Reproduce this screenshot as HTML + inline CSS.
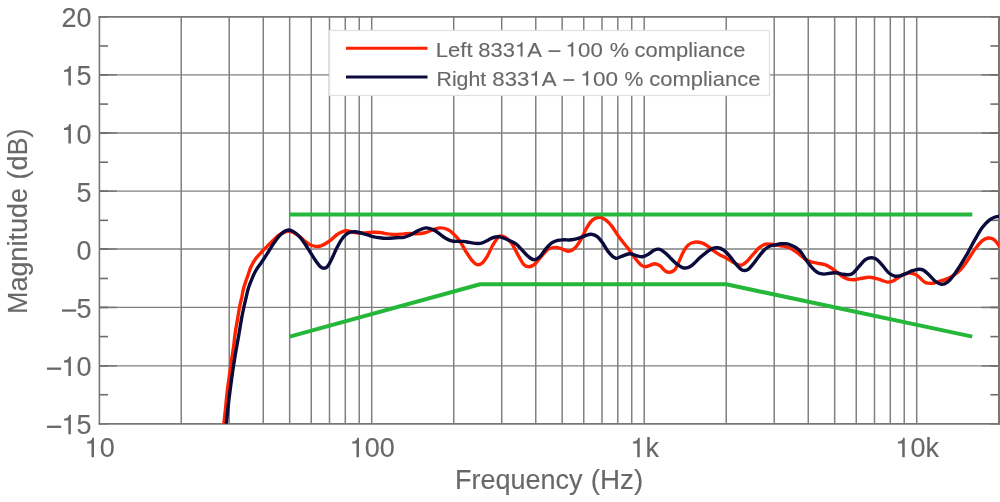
<!DOCTYPE html>
<html><head><meta charset="utf-8"><title>Frequency response</title>
<style>
html,body{margin:0;padding:0;background:#fff;}
body{width:1000px;height:502px;overflow:hidden;}
svg{display:block;will-change:transform;}
text{font-family:"Liberation Sans",sans-serif;font-kerning:none;}
</style></head><body>
<svg width="1000" height="502" viewBox="0 0 1000 502">
<rect width="1000" height="502" fill="#fff"/>
<defs><clipPath id="cp"><rect x="99.4" y="16.9" width="899.6" height="406.90000000000003"/></clipPath></defs>
<g stroke="#808080" stroke-width="1.5" fill="none">
<line x1="181.23" y1="16.9" x2="181.23" y2="423.8"/>
<line x1="229.22" y1="16.9" x2="229.22" y2="423.8"/>
<line x1="263.26" y1="16.9" x2="263.26" y2="423.8"/>
<line x1="289.67" y1="16.9" x2="289.67" y2="423.8"/>
<line x1="311.25" y1="16.9" x2="311.25" y2="423.8"/>
<line x1="329.49" y1="16.9" x2="329.49" y2="423.8"/>
<line x1="345.29" y1="16.9" x2="345.29" y2="423.8"/>
<line x1="359.23" y1="16.9" x2="359.23" y2="423.8"/>
<line x1="371.70" y1="16.9" x2="371.70" y2="423.8"/>
<line x1="453.73" y1="16.9" x2="453.73" y2="423.8"/>
<line x1="501.72" y1="16.9" x2="501.72" y2="423.8"/>
<line x1="535.76" y1="16.9" x2="535.76" y2="423.8"/>
<line x1="562.17" y1="16.9" x2="562.17" y2="423.8"/>
<line x1="583.75" y1="16.9" x2="583.75" y2="423.8"/>
<line x1="601.99" y1="16.9" x2="601.99" y2="423.8"/>
<line x1="617.79" y1="16.9" x2="617.79" y2="423.8"/>
<line x1="631.73" y1="16.9" x2="631.73" y2="423.8"/>
<line x1="644.20" y1="16.9" x2="644.20" y2="423.8"/>
<line x1="726.23" y1="16.9" x2="726.23" y2="423.8"/>
<line x1="774.22" y1="16.9" x2="774.22" y2="423.8"/>
<line x1="808.26" y1="16.9" x2="808.26" y2="423.8"/>
<line x1="834.67" y1="16.9" x2="834.67" y2="423.8"/>
<line x1="856.25" y1="16.9" x2="856.25" y2="423.8"/>
<line x1="874.49" y1="16.9" x2="874.49" y2="423.8"/>
<line x1="890.29" y1="16.9" x2="890.29" y2="423.8"/>
<line x1="904.23" y1="16.9" x2="904.23" y2="423.8"/>
<line x1="916.70" y1="16.9" x2="916.70" y2="423.8"/>
<line x1="99.4" y1="74.79" x2="999.0" y2="74.79" stroke-width="1.3"/>
<line x1="99.4" y1="133.00" x2="999.0" y2="133.00" stroke-width="1.3"/>
<line x1="99.4" y1="191.21" x2="999.0" y2="191.21" stroke-width="1.3"/>
<line x1="99.4" y1="249.00" x2="999.0" y2="249.00" stroke-width="1.3"/>
<line x1="99.4" y1="307.45" x2="999.0" y2="307.45" stroke-width="1.3"/>
<line x1="99.4" y1="365.79" x2="999.0" y2="365.79" stroke-width="1.3"/>
</g>
<g stroke="#6c6c6c" stroke-width="1.6" fill="none">
<line x1="99.4" y1="16.90" x2="108.0" y2="16.90"/>
<line x1="990.4" y1="16.90" x2="999.0" y2="16.90"/>
<line x1="99.4" y1="45.96" x2="108.0" y2="45.96"/>
<line x1="990.4" y1="45.96" x2="999.0" y2="45.96"/>
<line x1="99.4" y1="74.79" x2="116.9" y2="74.79" stroke="#7a7a7a"/>
<line x1="981.5" y1="74.79" x2="999.0" y2="74.79" stroke="#7a7a7a"/>
<line x1="99.4" y1="74.79" x2="108.0" y2="74.79"/>
<line x1="990.4" y1="74.79" x2="999.0" y2="74.79"/>
<line x1="99.4" y1="104.09" x2="108.0" y2="104.09"/>
<line x1="990.4" y1="104.09" x2="999.0" y2="104.09"/>
<line x1="99.4" y1="133.00" x2="116.9" y2="133.00" stroke="#7a7a7a"/>
<line x1="981.5" y1="133.00" x2="999.0" y2="133.00" stroke="#7a7a7a"/>
<line x1="99.4" y1="133.00" x2="108.0" y2="133.00"/>
<line x1="990.4" y1="133.00" x2="999.0" y2="133.00"/>
<line x1="99.4" y1="162.22" x2="108.0" y2="162.22"/>
<line x1="990.4" y1="162.22" x2="999.0" y2="162.22"/>
<line x1="99.4" y1="191.21" x2="116.9" y2="191.21" stroke="#7a7a7a"/>
<line x1="981.5" y1="191.21" x2="999.0" y2="191.21" stroke="#7a7a7a"/>
<line x1="99.4" y1="191.21" x2="108.0" y2="191.21"/>
<line x1="990.4" y1="191.21" x2="999.0" y2="191.21"/>
<line x1="99.4" y1="220.35" x2="108.0" y2="220.35"/>
<line x1="990.4" y1="220.35" x2="999.0" y2="220.35"/>
<line x1="99.4" y1="249.00" x2="116.9" y2="249.00" stroke="#7a7a7a"/>
<line x1="981.5" y1="249.00" x2="999.0" y2="249.00" stroke="#7a7a7a"/>
<line x1="99.4" y1="249.00" x2="108.0" y2="249.00"/>
<line x1="990.4" y1="249.00" x2="999.0" y2="249.00"/>
<line x1="99.4" y1="278.48" x2="108.0" y2="278.48"/>
<line x1="990.4" y1="278.48" x2="999.0" y2="278.48"/>
<line x1="99.4" y1="307.45" x2="116.9" y2="307.45" stroke="#7a7a7a"/>
<line x1="981.5" y1="307.45" x2="999.0" y2="307.45" stroke="#7a7a7a"/>
<line x1="99.4" y1="307.45" x2="108.0" y2="307.45"/>
<line x1="990.4" y1="307.45" x2="999.0" y2="307.45"/>
<line x1="99.4" y1="336.61" x2="108.0" y2="336.61"/>
<line x1="990.4" y1="336.61" x2="999.0" y2="336.61"/>
<line x1="99.4" y1="365.79" x2="116.9" y2="365.79" stroke="#7a7a7a"/>
<line x1="981.5" y1="365.79" x2="999.0" y2="365.79" stroke="#7a7a7a"/>
<line x1="99.4" y1="365.79" x2="108.0" y2="365.79"/>
<line x1="990.4" y1="365.79" x2="999.0" y2="365.79"/>
<line x1="99.4" y1="394.74" x2="108.0" y2="394.74"/>
<line x1="990.4" y1="394.74" x2="999.0" y2="394.74"/>
<line x1="99.4" y1="423.80" x2="108.0" y2="423.80"/>
<line x1="990.4" y1="423.80" x2="999.0" y2="423.80"/>
</g>
<g stroke="#777777" fill="none" stroke-linecap="square">
<line x1="99.4" y1="16.9" x2="999.0" y2="16.9" stroke-width="1.7"/>
<line x1="99.4" y1="423.8" x2="999.0" y2="423.8" stroke-width="1.8"/>
<line x1="99.4" y1="16.9" x2="99.4" y2="423.8" stroke-width="1.6"/>
<line x1="999" y1="16.9" x2="999" y2="423.8" stroke-width="2"/>
</g>
<g clip-path="url(#cp)" fill="none" stroke-linejoin="round" stroke-linecap="butt">
<path d="M223.0 432.0C223.2 430.5 223.5 427.0 223.9 423.1C224.3 419.2 225.0 413.8 225.5 408.7C226.0 403.7 226.5 398.1 227.1 392.8C227.7 387.5 228.4 382.2 229.2 376.9C229.9 371.6 230.6 366.2 231.4 360.9C232.2 355.6 233.2 349.5 233.8 345.0C234.4 340.5 234.4 338.0 235.1 333.7C235.7 329.5 236.7 323.8 237.5 319.4C238.2 315.0 238.8 311.2 239.5 307.5C240.2 303.7 241.0 300.4 241.8 297.1C242.5 293.8 242.8 291.2 243.8 287.5C244.9 283.9 246.7 278.6 248.0 275.1C249.2 271.6 249.8 269.1 251.2 266.4C252.5 263.6 253.9 261.0 255.9 258.4C257.9 255.7 261.0 252.7 263.1 250.4C265.2 248.2 266.8 246.7 268.7 244.8C270.5 243.0 272.4 241.0 274.3 239.3C276.1 237.5 278.1 235.7 279.8 234.5C281.6 233.3 283.2 232.6 284.6 232.1C286.1 231.6 287.1 231.2 288.6 231.3C290.1 231.3 291.7 231.6 293.4 232.4C295.1 233.2 297.1 234.7 299.0 236.1C300.8 237.5 302.7 239.4 304.5 240.9C306.4 242.3 308.3 243.9 310.1 244.8C312.0 245.8 314.0 246.2 315.7 246.4C317.4 246.6 318.8 246.5 320.5 246.0C322.2 245.4 324.2 244.4 326.1 243.2C327.9 242.1 329.8 240.7 331.6 239.3C333.5 237.8 335.5 235.7 337.2 234.5C338.9 233.2 340.4 232.4 342.0 231.8C343.6 231.2 345.2 230.8 346.8 230.8C348.4 230.8 350.0 231.3 351.6 231.6C353.1 232.0 354.3 232.7 356.3 232.9C358.4 233.1 361.3 233.0 363.9 232.9C366.5 232.8 369.3 232.3 371.9 232.3C374.6 232.2 377.2 232.2 379.9 232.5C382.5 232.7 385.2 233.5 387.8 233.9C390.5 234.2 393.2 234.5 395.8 234.5C398.5 234.5 401.5 234.0 403.8 233.9C406.1 233.7 407.4 233.5 409.8 233.5C412.1 233.5 415.1 234.0 417.7 233.9C420.4 233.7 423.0 233.2 425.7 232.5C428.4 231.7 431.2 230.2 433.7 229.5C436.2 228.7 438.3 227.9 440.6 227.9C443.0 227.9 445.5 228.5 447.6 229.5C449.8 230.5 451.6 232.0 453.6 233.9C455.6 235.8 457.6 238.0 459.6 240.8C461.6 243.7 463.5 247.6 465.5 250.8C467.5 254.0 469.5 257.4 471.5 259.8C473.5 262.1 475.7 264.2 477.5 264.7C479.3 265.2 480.8 264.2 482.5 262.7C484.1 261.3 485.8 258.6 487.5 255.8C489.1 253.0 490.8 248.7 492.4 245.8C494.1 242.9 496.1 239.9 497.4 238.2C498.7 236.6 498.6 235.9 500.0 235.9C501.4 235.8 504.0 236.5 506.0 237.8C508.0 239.2 510.0 241.0 512.0 243.8C513.9 246.6 515.9 251.3 517.9 254.8C519.9 258.3 522.1 262.7 523.9 264.7C525.7 266.7 527.1 266.8 528.9 266.7C530.7 266.6 532.7 266.0 534.9 264.1C537.0 262.3 539.5 258.3 541.8 255.8C544.2 253.2 546.5 250.2 548.8 248.8C551.1 247.4 553.6 247.4 555.8 247.4C557.9 247.4 559.6 248.2 561.8 248.8C563.9 249.4 566.6 251.3 568.7 251.2C570.9 251.1 572.7 250.1 574.7 248.2C576.7 246.3 578.7 243.2 580.7 239.8C582.7 236.5 584.7 231.2 586.7 227.9C588.6 224.6 590.5 221.7 592.6 219.9C594.8 218.2 597.4 217.3 599.6 217.3C601.8 217.3 603.6 218.5 605.6 219.9C607.6 221.3 609.6 223.4 611.6 225.9C613.5 228.4 615.5 232.0 617.5 234.9C619.5 237.7 621.5 240.3 623.5 242.8C625.5 245.4 627.5 247.5 629.5 250.2C631.5 252.9 633.5 256.2 635.5 258.8C637.5 261.3 639.8 264.0 641.4 265.3C643.1 266.7 644.0 266.7 645.4 266.7C646.8 266.7 648.4 265.8 650.0 265.3C651.6 264.8 653.3 263.7 655.0 263.7C656.6 263.8 658.3 264.6 660.0 265.7C661.6 266.9 663.3 269.6 664.9 270.7C666.6 271.8 668.3 272.5 669.9 272.3C671.6 272.1 673.4 271.5 674.9 269.7C676.4 268.0 677.4 264.9 678.9 261.8C680.4 258.6 682.2 253.7 683.9 250.8C685.5 247.9 687.0 246.0 688.8 244.5C690.7 243.1 692.7 242.4 694.8 242.1C697.0 241.9 699.6 242.3 701.8 242.9C704.0 243.6 705.8 244.9 707.8 246.2C709.8 247.5 711.8 249.4 713.7 250.8C715.7 252.2 717.7 253.6 719.7 254.8C721.7 255.9 723.7 256.7 725.7 257.8C727.7 258.9 729.7 260.2 731.7 261.4C733.7 262.5 735.8 264.2 737.6 264.7C739.5 265.3 741.0 265.4 742.6 264.7C744.3 264.1 745.8 262.6 747.6 260.8C749.4 258.9 751.6 256.0 753.6 253.8C755.6 251.6 757.6 249.0 759.6 247.4C761.6 245.8 763.5 244.8 765.5 244.2C767.5 243.7 769.5 244.1 771.5 244.2C773.5 244.4 775.5 244.9 777.5 245.2C779.5 245.6 781.5 245.8 783.5 246.2C785.5 246.6 787.5 246.9 789.4 247.8C791.4 248.7 793.7 250.2 795.4 251.4C797.2 252.6 798.2 253.4 800.0 254.8C801.8 256.2 804.0 258.5 806.0 259.8C808.0 261.0 810.0 261.6 812.0 262.2C813.9 262.7 815.8 262.9 817.9 263.3C820.1 263.8 822.7 264.0 824.9 264.7C827.1 265.5 828.9 266.5 830.9 267.7C832.9 269.0 834.9 270.6 836.9 272.1C838.8 273.6 840.8 275.5 842.8 276.7C844.8 277.9 846.8 278.8 848.8 279.3C850.8 279.8 852.6 279.8 854.8 279.7C856.9 279.5 859.4 278.7 861.8 278.3C864.1 277.9 866.4 277.3 868.7 277.3C871.0 277.3 873.5 277.8 875.7 278.3C877.9 278.8 879.7 279.6 881.7 280.3C883.7 280.9 885.7 282.0 887.6 282.1C889.6 282.1 891.6 281.6 893.6 280.7C895.6 279.8 897.6 277.9 899.6 276.7C901.6 275.5 903.6 274.3 905.6 273.7C907.6 273.1 909.6 273.0 911.6 273.3C913.5 273.6 915.3 274.2 917.5 275.7C919.7 277.2 922.4 280.9 924.8 282.2C927.2 283.5 929.6 283.5 931.9 283.4C934.3 283.3 936.7 282.2 939.1 281.5C941.5 280.8 943.9 280.1 946.3 279.1C948.7 278.1 951.0 277.1 953.4 275.5C955.8 273.9 958.2 272.1 960.6 269.6C963.0 267.0 965.4 263.4 967.8 260.0C970.1 256.6 972.5 252.4 974.9 249.3C977.3 246.1 979.9 242.8 982.1 240.9C984.3 239.0 986.1 238.2 988.1 238.0C990.0 237.8 992.0 238.2 994.0 239.7C996.0 241.2 999.0 245.7 1000.0 246.9" stroke="#ff2200" stroke-width="3.4"/>
<path d="M225.5 432.0C225.9 428.1 227.2 415.3 227.9 408.7C228.6 402.2 229.1 398.1 229.8 392.8C230.5 387.5 231.1 382.2 231.9 376.9C232.6 371.6 233.4 366.2 234.3 360.9C235.1 355.6 236.2 349.5 237.0 345.0C237.8 340.5 238.3 338.0 239.0 333.7C239.8 329.5 240.6 323.8 241.4 319.4C242.2 315.0 243.0 311.2 243.8 307.5C244.6 303.7 245.4 300.4 246.2 297.1C247.0 293.8 247.4 291.2 248.6 287.5C249.8 283.9 252.1 278.4 253.5 275.1C255.0 271.9 255.9 270.5 257.5 267.9C259.1 265.4 261.2 262.8 263.1 260.0C265.0 257.2 266.8 254.1 268.7 251.2C270.5 248.3 272.4 245.1 274.3 242.5C276.1 239.8 278.1 237.1 279.8 235.3C281.6 233.4 283.2 232.2 284.6 231.3C286.1 230.4 287.1 230.0 288.6 230.0C290.1 230.1 291.7 230.6 293.4 231.6C295.1 232.6 297.1 234.1 299.0 236.1C300.8 238.0 302.7 240.6 304.5 243.2C306.4 245.9 308.3 249.1 310.1 252.0C312.0 254.9 314.0 258.3 315.7 260.8C317.4 263.2 319.1 265.6 320.5 266.8C321.9 268.1 322.9 268.3 324.1 268.3C325.3 268.2 326.4 267.9 327.6 266.4C328.9 264.8 330.2 262.1 331.6 259.2C333.1 256.3 334.8 252.0 336.4 248.8C338.0 245.6 339.6 242.5 341.2 240.1C342.8 237.7 344.4 235.8 346.0 234.5C347.6 233.2 349.2 232.5 350.8 232.1C352.4 231.6 353.3 231.5 355.5 231.8C357.7 232.1 361.2 233.1 363.9 233.9C366.7 234.6 369.3 235.6 371.9 236.3C374.6 236.9 377.4 237.5 379.9 237.8C382.4 238.2 384.2 238.4 386.9 238.4C389.5 238.4 393.0 238.0 395.8 237.8C398.6 237.6 401.5 237.7 403.8 237.3C406.1 236.8 407.4 236.3 409.8 235.3C412.1 234.2 415.1 232.1 417.7 230.9C420.4 229.6 423.0 228.1 425.7 227.9C428.4 227.7 431.3 228.9 433.7 229.9C436.0 230.9 437.6 232.5 439.6 233.9C441.6 235.3 443.6 237.1 445.6 238.2C447.6 239.4 449.6 240.3 451.6 240.8C453.6 241.4 455.6 241.3 457.6 241.4C459.6 241.5 461.6 241.3 463.5 241.4C465.5 241.6 467.5 242.1 469.5 242.4C471.5 242.8 473.5 243.3 475.5 243.4C477.5 243.6 479.5 243.7 481.5 243.2C483.5 242.7 485.5 241.4 487.5 240.4C489.4 239.5 491.4 238.0 493.4 237.5C495.4 236.9 497.0 236.5 499.4 236.9C501.8 237.3 505.2 238.7 508.0 239.8C510.7 241.0 513.6 242.2 515.9 243.8C518.3 245.5 519.9 247.7 521.9 249.8C523.9 251.9 525.9 254.5 527.9 256.2C529.9 257.8 531.9 259.7 533.9 259.8C535.9 259.9 537.8 258.6 539.8 256.8C541.8 254.9 543.8 251.1 545.8 248.8C547.8 246.5 549.8 244.2 551.8 242.8C553.8 241.4 555.8 240.9 557.8 240.4C559.8 239.9 561.4 239.9 563.7 239.8C566.1 239.7 569.1 240.2 571.7 239.8C574.4 239.5 577.4 238.6 579.7 237.8C582.0 237.1 583.7 236.1 585.7 235.5C587.6 234.9 589.6 234.0 591.6 234.3C593.6 234.5 595.8 235.4 597.6 236.9C599.4 238.3 600.8 240.3 602.6 242.8C604.4 245.4 606.4 249.6 608.6 252.2C610.7 254.7 613.4 257.5 615.5 258.2C617.7 258.9 619.2 257.1 621.5 256.4C623.8 255.6 627.2 254.0 629.5 253.8C631.8 253.6 633.3 254.9 635.5 255.4C637.6 255.9 640.3 257.0 642.4 256.8C644.6 256.6 646.5 255.3 648.4 254.2C650.3 253.1 652.2 251.0 654.0 250.2C655.7 249.4 657.3 248.9 659.0 249.2C660.6 249.5 662.1 250.4 663.9 251.8C665.8 253.2 667.9 255.4 669.9 257.4C671.9 259.3 673.9 261.7 675.9 263.3C677.9 265.0 679.9 266.6 681.9 267.3C683.9 268.1 685.9 268.3 687.8 267.7C689.8 267.1 691.8 265.4 693.8 263.7C695.8 262.1 697.8 259.6 699.8 257.8C701.8 255.9 703.8 254.3 705.8 252.8C707.8 251.3 709.8 249.6 711.8 248.8C713.7 248.0 715.7 247.6 717.7 247.8C719.7 248.0 721.7 248.8 723.7 250.2C725.7 251.6 727.7 253.9 729.7 256.2C731.7 258.4 733.7 261.5 735.7 263.7C737.6 266.0 739.6 268.7 741.6 269.7C743.6 270.7 745.8 270.6 747.6 269.7C749.4 268.9 750.8 266.9 752.6 264.7C754.4 262.6 756.6 259.3 758.6 256.8C760.6 254.3 762.7 251.6 764.5 249.8C766.4 248.0 767.7 247.0 769.5 246.2C771.3 245.4 773.5 245.2 775.5 244.8C777.5 244.4 779.5 244.0 781.5 243.8C783.5 243.7 785.5 243.4 787.5 243.8C789.4 244.2 791.3 245.1 793.4 246.2C795.5 247.4 797.9 248.5 800.0 250.8C802.1 253.1 804.0 256.9 806.0 259.8C808.0 262.6 810.0 265.6 812.0 267.7C813.9 269.9 815.9 271.6 817.9 272.7C819.9 273.8 821.9 274.0 823.9 274.1C825.9 274.2 827.9 273.5 829.9 273.3C831.9 273.1 833.9 272.6 835.9 272.7C837.8 272.8 839.8 273.8 841.8 274.1C843.8 274.4 846.0 274.8 847.8 274.7C849.6 274.6 851.0 274.6 852.8 273.3C854.6 272.0 856.8 268.9 858.8 266.7C860.8 264.5 862.7 261.7 864.7 260.2C866.7 258.7 868.7 257.9 870.7 257.8C872.7 257.6 874.7 258.0 876.7 259.4C878.7 260.7 880.7 263.5 882.7 265.7C884.7 268.0 886.7 271.0 888.6 272.7C890.6 274.4 892.6 275.6 894.6 276.1C896.6 276.6 898.6 276.2 900.6 275.7C902.6 275.2 904.6 274.1 906.6 273.3C908.6 272.5 910.6 271.4 912.5 270.7C914.5 270.1 916.7 269.4 918.5 269.3C920.4 269.2 921.7 269.2 923.6 270.3C925.4 271.3 927.6 273.7 929.6 275.5C931.5 277.4 933.5 280.0 935.5 281.5C937.5 283.0 939.5 284.2 941.5 284.4C943.5 284.5 945.5 283.7 947.5 282.2C949.5 280.7 951.2 278.4 953.4 275.5C955.6 272.6 958.2 268.6 960.6 264.8C963.0 261.0 965.4 257.0 967.8 252.8C970.1 248.7 972.5 243.9 974.9 239.7C977.3 235.5 979.7 231.0 982.1 227.8C984.5 224.5 987.1 221.9 989.3 220.1C991.4 218.3 993.4 217.7 995.2 217.0C997.0 216.4 999.2 216.4 1000.0 216.3" stroke="#0a0a3c" stroke-width="3.4"/>
<path d="M289.7 214.5 L972.3 214.5" stroke="#25b73a" stroke-width="4.0"/>
<path d="M289.7 336.6 L480.1 284.3 L726.2 284.3 L972.3 336.6" stroke="#25b73a" stroke-width="4.0"/>
</g>
<rect x="329.5" y="30.5" width="440" height="65" fill="#fff" stroke="#e0e0e0" stroke-width="1.2"/>
<line x1="346" y1="48.3" x2="427.5" y2="48.3" stroke="#ff2200" stroke-width="3"/>
<line x1="346" y1="77.1" x2="427.5" y2="77.1" stroke="#0a0a3c" stroke-width="3"/>
<g fill="#686868" stroke="#686868" stroke-width="0.12">
<g transform="translate(91.60 27.35) scale(1.0000 1.0550)" font-size="27"><text x="-30.03" y="0">20</text></g>
<g transform="translate(91.60 85.48) scale(1.0000 1.0550)" font-size="27"><path transform="translate(-30.03 0) scale(0.01318 -0.01318)" d="M706 0H516V985H185V1118Q400 1130 490 1230T580 1409H706Z"/><text x="-15.02" y="0">5</text></g>
<g transform="translate(91.60 143.61) scale(1.0000 1.0550)" font-size="27"><path transform="translate(-30.03 0) scale(0.01318 -0.01318)" d="M706 0H516V985H185V1118Q400 1130 490 1230T580 1409H706Z"/><text x="-15.02" y="0">0</text></g>
<g transform="translate(91.60 201.74) scale(1.0000 1.0550)" font-size="27"><text x="-15.02" y="0">5</text></g>
<g transform="translate(91.60 259.86) scale(1.0000 1.0550)" font-size="27"><text x="-15.02" y="0">0</text></g>
<g transform="translate(91.60 317.99) scale(1.0000 1.0550)" font-size="27"><path transform="translate(-30.03 0) scale(0.01318 -0.01318)" d="M30 452H1109V618H30Z"/><text x="-15.02" y="0">5</text></g>
<g transform="translate(91.60 376.12) scale(1.0000 1.0550)" font-size="27"><path transform="translate(-45.05 0) scale(0.01318 -0.01318)" d="M30 452H1109V618H30Z"/><path transform="translate(-30.03 0) scale(0.01318 -0.01318)" d="M706 0H516V985H185V1118Q400 1130 490 1230T580 1409H706Z"/><text x="-15.02" y="0">0</text></g>
<g transform="translate(91.60 434.25) scale(1.0000 1.0550)" font-size="27"><path transform="translate(-45.05 0) scale(0.01318 -0.01318)" d="M30 452H1109V618H30Z"/><path transform="translate(-30.03 0) scale(0.01318 -0.01318)" d="M706 0H516V985H185V1118Q400 1130 490 1230T580 1409H706Z"/><text x="-15.02" y="0">5</text></g>
<g transform="translate(99.70 457.30) scale(1.0000 1.0550)" font-size="27"><path transform="translate(-15.02 0) scale(0.01318 -0.01318)" d="M706 0H516V985H185V1118Q400 1130 490 1230T580 1409H706Z"/><text x="0.00" y="0">0</text></g>
<g transform="translate(372.20 457.30) scale(1.0000 1.0550)" font-size="27"><path transform="translate(-22.52 0) scale(0.01318 -0.01318)" d="M706 0H516V985H185V1118Q400 1130 490 1230T580 1409H706Z"/><text x="-7.51" y="0">00</text></g>
<g transform="translate(644.70 457.30) scale(1.0000 1.0550)" font-size="27"><path transform="translate(-14.26 0) scale(0.01318 -0.01318)" d="M706 0H516V985H185V1118Q400 1130 490 1230T580 1409H706Z"/><text x="0.76" y="0">k</text></g>
<g transform="translate(917.20 457.30) scale(1.0000 1.0550)" font-size="27"><path transform="translate(-21.77 0) scale(0.01318 -0.01318)" d="M706 0H516V985H185V1118Q400 1130 490 1230T580 1409H706Z"/><text x="-6.75" y="0">0k</text></g>
<g transform="translate(455.00 489.00)" font-size="27"><text x="0.00" y="0">Frequency</text></g>
<g transform="translate(590.80 489.00) scale(1.0298 1.0000)" font-size="27"><text x="0.00" y="0">(Hz)</text></g>
<g transform="translate(26.60 314.00) rotate(-90)" font-size="27"><text x="0.00" y="0">Magnitude</text></g>
<g transform="translate(26.60 179.60) rotate(-90)" font-size="27"><text x="0.00" y="0">(dB)</text></g>
<g transform="translate(435.84 56.60) scale(1.0500 1.0000)" font-size="21"><text x="0.00" y="0">Left</text></g>
<g transform="translate(478.37 56.60) scale(1.0455 1.0000)" font-size="21"><text x="0.00" y="0">833</text><path transform="translate(35.04 0) scale(0.01025 -0.01025)" d="M706 0H516V985H185V1118Q400 1130 490 1230T580 1409H706Z"/><text x="46.72" y="0">A</text></g>
<g transform="translate(548.21 56.60) scale(1.0749 1.0000)" font-size="21"><path transform="translate(0.00 0) scale(0.01025 -0.01025)" d="M30 452H1109V618H30Z"/></g>
<g transform="translate(565.64 56.60) scale(1.0594 1.0000)" font-size="21"><path transform="translate(0.00 0) scale(0.01025 -0.01025)" d="M706 0H516V985H185V1118Q400 1130 490 1230T580 1409H706Z"/><text x="11.68" y="0">00</text></g>
<g transform="translate(609.82 56.60) scale(1.0339 1.0000)" font-size="21"><text x="0.00" y="0">%</text></g>
<g transform="translate(634.56 56.60) scale(1.0442 1.0000)" font-size="21"><text x="0.00" y="0">compliance</text></g>
<g transform="translate(436.53 85.50) scale(1.0132 1.0000)" font-size="21"><text x="0.00" y="0">Right</text></g>
<g transform="translate(492.36 85.50) scale(1.0575 1.0000)" font-size="21"><text x="0.00" y="0">833</text><path transform="translate(35.04 0) scale(0.01025 -0.01025)" d="M706 0H516V985H185V1118Q400 1130 490 1230T580 1409H706Z"/><text x="46.72" y="0">A</text></g>
<g transform="translate(563.11 85.50) scale(0.9830 1.0000)" font-size="21"><path transform="translate(0.00 0) scale(0.01025 -0.01025)" d="M30 452H1109V618H30Z"/></g>
<g transform="translate(580.46 85.50) scale(1.0737 1.0000)" font-size="21"><path transform="translate(0.00 0) scale(0.01025 -0.01025)" d="M706 0H516V985H185V1118Q400 1130 490 1230T580 1409H706Z"/><text x="11.68" y="0">00</text></g>
<g transform="translate(624.46 85.50) scale(1.0088 1.0000)" font-size="21"><text x="0.00" y="0">%</text></g>
<g transform="translate(649.26 85.50) scale(1.0462 1.0000)" font-size="21"><text x="0.00" y="0">compliance</text></g>
</g>
</svg>
</body></html>
